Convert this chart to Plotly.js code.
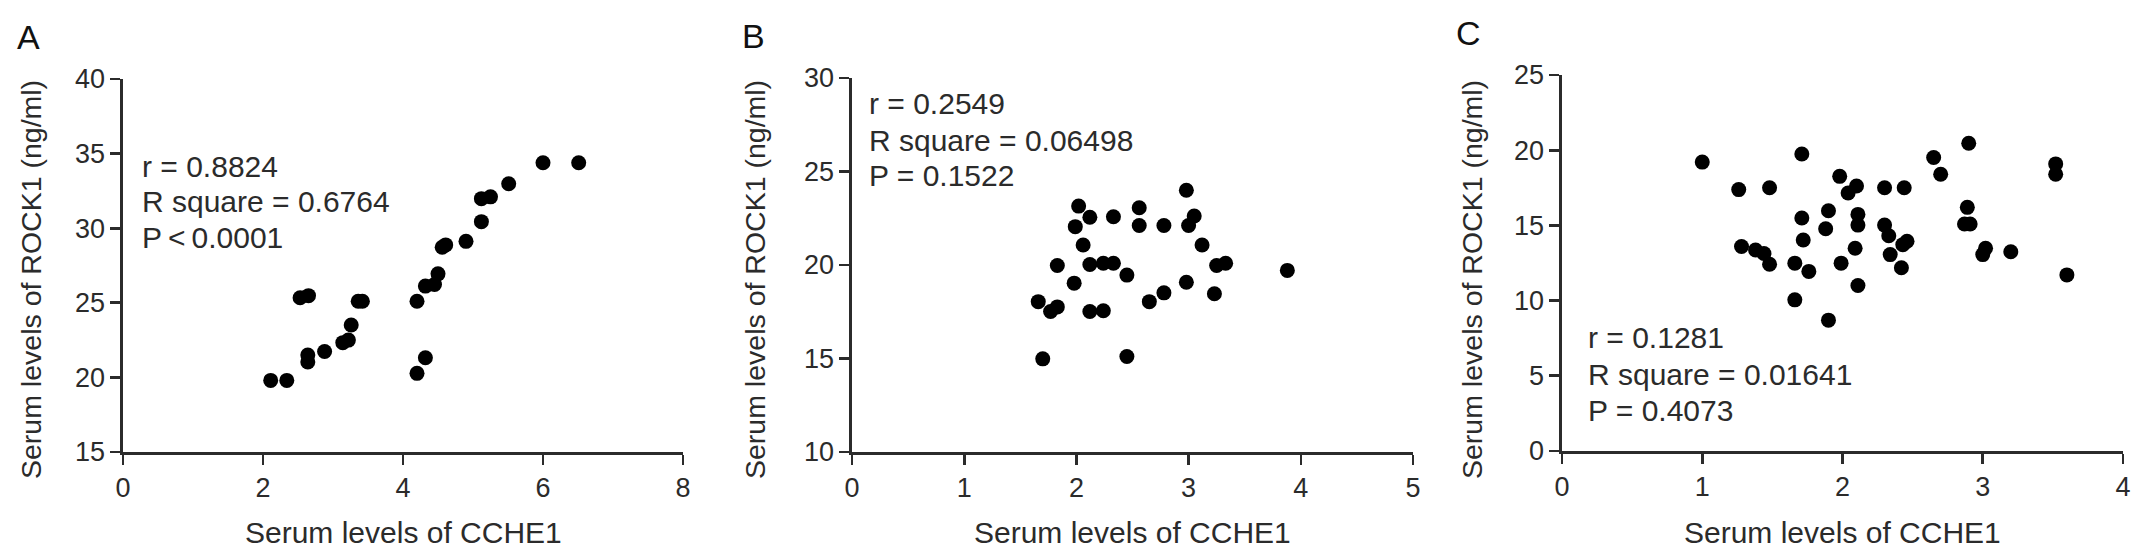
<!DOCTYPE html>
<html>
<head>
<meta charset="utf-8">
<script src="https://cdn.plot.ly/plotly-3.0.1.min.js"></script>
<style>html,body{margin:0;padding:0;background:#fff;}#chart{width:2150px;height:555px;}</style>
</head>
<body>
<div id="chart"></div>
<script>
// Panel A data
const aX = [2.11,2.34,2.53,2.65,2.64,2.64,2.88,3.14,3.22,3.26,3.36,3.42,4.20,4.32,4.20,4.32,4.45,4.50,4.56,4.61,4.90,5.12,5.12,5.25,5.51,6.00,6.51];
const aY = [19.80,19.80,25.34,25.48,21.50,21.03,21.74,22.33,22.50,23.51,25.10,25.10,20.27,21.32,25.10,26.12,26.23,26.94,28.72,28.88,29.12,30.44,31.98,32.10,32.98,34.39,34.39];
// Panel B data
const bX = [1.66,1.70,1.77,1.83,1.83,1.98,1.99,2.02,2.06,2.12,2.12,2.12,2.24,2.24,2.33,2.33,2.45,2.45,2.56,2.56,2.65,2.78,2.78,2.98,3.00,3.05,2.98,3.12,3.23,3.25,3.33,3.88];
const bY = [18.04,14.98,17.51,17.76,19.97,19.03,22.05,23.15,21.07,22.55,20.03,17.51,17.55,20.09,20.09,22.58,19.46,15.11,23.06,22.11,18.04,22.11,18.51,24.00,22.11,22.62,19.08,21.07,18.46,19.97,20.09,19.71];
// Panel C data
const cX = [1.00,1.26,1.28,1.38,1.44,1.48,1.48,1.66,1.66,1.71,1.71,1.72,1.76,1.90,1.88,1.90,1.98,1.99,2.04,2.10,2.09,2.11,2.11,2.11,2.30,2.30,2.33,2.34,2.43,2.46,2.42,2.44,2.65,2.70,2.90,2.89,2.87,2.91,3.00,3.02,3.20,3.52,3.52,3.60];
const cY = [19.21,17.38,13.60,13.36,13.13,12.42,17.50,12.49,10.05,19.75,15.49,14.03,11.94,15.97,14.78,8.70,18.26,12.49,17.15,17.62,13.48,15.73,15.02,11.00,17.50,15.02,14.31,13.06,13.72,13.95,12.18,17.50,19.51,18.40,20.46,16.20,15.09,15.09,13.06,13.48,13.25,19.09,18.40,11.71];

// Ticks and labels
const aXTicks = [0,2,4,6,8], aYTicks = [15,20,25,30,35,40];
const bXTicks = [0,1,2,3,4,5], bYTicks = [10,15,20,25,30];
const cXTicks = [0,1,2,3,4], cYTicks = [0,5,10,15,20,25];
const panelLetters = ["A","B","C"];
const xTitle = "Serum levels of CCHE1";
const yTitle = "Serum levels of ROCK1 (ng/ml)";
const statsA = ["r = 0.8824","R square = 0.6764","P\u2009<\u20090.0001"];
const statsB = ["r = 0.2549","R square = 0.06498","P = 0.1522"];
const statsC = ["r = 0.1281","R square = 0.01641","P = 0.4073"];

const W = 2150, H = 555;
const FONT = "Liberation Sans, Arial, Helvetica, sans-serif";
const INK = "#2b2b2b";
const px = v => v / W;
const py = v => 1 - v / H;

function mk(x, y, xa, ya) {
  return {x: x, y: y, xaxis: xa, yaxis: ya, type: "scatter", mode: "markers",
    marker: {size: 15, color: "#000"}, hoverinfo: "x+y", showlegend: false};
}
const data = [mk(aX,aY,"x","y"), mk(bX,bY,"x2","y2"), mk(cX,cY,"x3","y3")];

function axis(dom, rng, ticks, anchor) {
  return {domain: dom, range: rng, tickvals: ticks, ticktext: ticks.map(String),
    anchor: anchor, showline: true, linecolor: INK, linewidth: 2.6,
    ticks: "outside", ticklen: 10, tickwidth: 2.6, tickcolor: INK,
    showgrid: false, zeroline: false, fixedrange: true,
    tickfont: {family: FONT, size: 27, color: INK}};
}

const panels = [
  {x0:123, x1:683, sx:142, sy:[166,201,237], stats:statsA, lx:15, ly:37, tx:31},
  {x0:852, x1:1413, sx:869, sy:[104,140,175], stats:statsB, lx:740, ly:36, tx:755},
  {x0:1562, x1:2123, sx:1588, sy:[337,374,410], stats:statsC, lx:1454, ly:33, tx:1472}
];

const layout = {
  width: W, height: H, margin: {l:0, r:0, t:0, b:0},
  paper_bgcolor: "#fff", plot_bgcolor: "#fff",
  font: {family: FONT, color: INK},
  xaxis: axis([px(123), px(683)], [0,8], aXTicks, "y"),
  yaxis: axis([py(452), py(79)], [15,40], aYTicks, "x"),
  xaxis2: axis([px(852), px(1413)], [0,5], bXTicks, "y2"),
  yaxis2: axis([py(452), py(78)], [10,30], bYTicks, "x2"),
  xaxis3: axis([px(1562), px(2123)], [0,4], cXTicks, "y3"),
  yaxis3: axis([py(451), py(75)], [0,25], cYTicks, "x3"),
  annotations: []
};

panels.forEach((p, i) => {
  layout.annotations.push({text: panelLetters[i], xref:"paper", yref:"paper",
    x: px(p.lx), y: py(p.ly), xanchor:"left", yanchor:"middle", showarrow:false,
    font:{family:FONT, size:34, color:"#111"}});
  layout.annotations.push({text: xTitle, xref:"paper", yref:"paper",
    x: px((p.x0+p.x1)/2), y: py(532), xanchor:"center", yanchor:"middle", showarrow:false,
    font:{family:FONT, size:30, color:INK}});
  layout.annotations.push({text: yTitle, xref:"paper", yref:"paper", textangle:-90,
    x: px(p.tx), y: py(280), xanchor:"center", yanchor:"middle", showarrow:false,
    font:{family:FONT, size:28.5, color:INK}});
  p.stats.forEach((s, j) => {
    layout.annotations.push({text: s, xref:"paper", yref:"paper",
      x: px(p.sx - 2), y: py(p.sy[j]), xanchor:"left", yanchor:"middle", showarrow:false,
      font:{family:FONT, size:30, color:INK}});
  });
});

Plotly.newPlot("chart", data, layout, {staticPlot: true, displayModeBar: false});
</script>
</body>
</html>
